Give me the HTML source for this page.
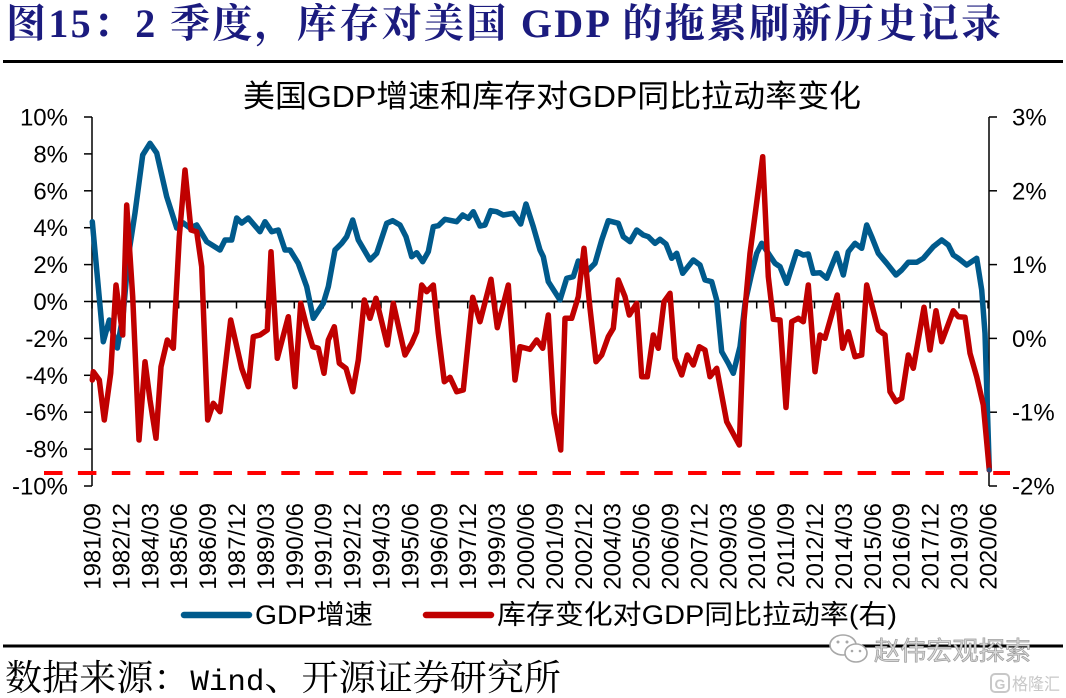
<!DOCTYPE html>
<html>
<head>
<meta charset="utf-8">
<style>
  html,body{margin:0;padding:0;background:#fff;}
  body{width:1066px;height:698px;overflow:hidden;}
  svg{display:block;}
  .sans{font-family:"Liberation Sans","Noto Sans CJK SC",sans-serif;}
  .serif{font-family:"Liberation Serif","Noto Serif CJK SC",serif;}
</style>
</head>
<body>
<svg width="1066" height="698" viewBox="0 0 1066 698" xmlns="http://www.w3.org/2000/svg">
  <!-- Title -->
  <text class="serif" x="6" y="37" font-size="40" font-weight="bold" fill="#1b1b7e" textLength="995" lengthAdjust="spacing">图15：2 季度，库存对美国 GDP 的拖累刷新历史记录</text>
  <line x1="3" y1="61.5" x2="1063" y2="61.5" stroke="#000" stroke-width="3"/>

  <!-- Chart title -->
  <text class="sans" x="243" y="107" font-size="31" fill="#000" textLength="618" lengthAdjust="spacingAndGlyphs">美国GDP增速和库存对GDP同比拉动率变化</text>

  <!-- Left axis -->
  <line x1="92" y1="117" x2="92" y2="486" stroke="#000" stroke-width="1.5"/>
  <g stroke="#000" stroke-width="1.5">
    <line x1="84" y1="117" x2="92" y2="117"/>
    <line x1="84" y1="153.9" x2="92" y2="153.9"/>
    <line x1="84" y1="190.8" x2="92" y2="190.8"/>
    <line x1="84" y1="227.7" x2="92" y2="227.7"/>
    <line x1="84" y1="264.6" x2="92" y2="264.6"/>
    <line x1="84" y1="301.5" x2="92" y2="301.5"/>
    <line x1="84" y1="338.4" x2="92" y2="338.4"/>
    <line x1="84" y1="375.3" x2="92" y2="375.3"/>
    <line x1="84" y1="412.2" x2="92" y2="412.2"/>
    <line x1="84" y1="449.1" x2="92" y2="449.1"/>
    <line x1="84" y1="486" x2="92" y2="486"/>
  </g>
  <g class="sans" font-size="24" fill="#000" text-anchor="end">
    <text x="68" y="125.5">10%</text>
    <text x="68" y="162.4">8%</text>
    <text x="68" y="199.3">6%</text>
    <text x="68" y="236.2">4%</text>
    <text x="68" y="273.1">2%</text>
    <text x="68" y="310">0%</text>
    <text x="68" y="346.9">-2%</text>
    <text x="68" y="383.8">-4%</text>
    <text x="68" y="420.7">-6%</text>
    <text x="68" y="457.6">-8%</text>
    <text x="68" y="494.5">-10%</text>
  </g>

  <!-- Right axis -->
  <line x1="989" y1="117" x2="989" y2="486" stroke="#000" stroke-width="1.5"/>
  <g stroke="#000" stroke-width="1.5">
    <line x1="989" y1="117" x2="997" y2="117"/>
    <line x1="989" y1="190.8" x2="997" y2="190.8"/>
    <line x1="989" y1="264.6" x2="997" y2="264.6"/>
    <line x1="989" y1="338.4" x2="997" y2="338.4"/>
    <line x1="989" y1="412.2" x2="997" y2="412.2"/>
    <line x1="989" y1="486" x2="997" y2="486"/>
  </g>
  <g class="sans" font-size="24" fill="#000">
    <text x="1012" y="125.5">3%</text>
    <text x="1012" y="199.3">2%</text>
    <text x="1012" y="273.1">1%</text>
    <text x="1012" y="346.9">0%</text>
    <text x="1012" y="420.7">-1%</text>
    <text x="1012" y="494.5">-2%</text>
  </g>

  <!-- Zero line (category axis) -->
  <line x1="92" y1="301.5" x2="989" y2="301.5" stroke="#000" stroke-width="2"/>
  <g stroke="#000" stroke-width="1.5">
    <line x1="92" y1="301.5" x2="92" y2="308.5"/>
    <line x1="120.9" y1="301.5" x2="120.9" y2="308.5"/>
    <line x1="149.8" y1="301.5" x2="149.8" y2="308.5"/>
    <line x1="178.7" y1="301.5" x2="178.7" y2="308.5"/>
    <line x1="207.6" y1="301.5" x2="207.6" y2="308.5"/>
    <line x1="236.5" y1="301.5" x2="236.5" y2="308.5"/>
    <line x1="265.4" y1="301.5" x2="265.4" y2="308.5"/>
    <line x1="294.3" y1="301.5" x2="294.3" y2="308.5"/>
    <line x1="323.2" y1="301.5" x2="323.2" y2="308.5"/>
    <line x1="352.1" y1="301.5" x2="352.1" y2="308.5"/>
    <line x1="381" y1="301.5" x2="381" y2="308.5"/>
    <line x1="409.9" y1="301.5" x2="409.9" y2="308.5"/>
    <line x1="438.8" y1="301.5" x2="438.8" y2="308.5"/>
    <line x1="467.7" y1="301.5" x2="467.7" y2="308.5"/>
    <line x1="496.6" y1="301.5" x2="496.6" y2="308.5"/>
    <line x1="525.5" y1="301.5" x2="525.5" y2="308.5"/>
    <line x1="554.4" y1="301.5" x2="554.4" y2="308.5"/>
    <line x1="583.3" y1="301.5" x2="583.3" y2="308.5"/>
    <line x1="612.2" y1="301.5" x2="612.2" y2="308.5"/>
    <line x1="641.1" y1="301.5" x2="641.1" y2="308.5"/>
    <line x1="670" y1="301.5" x2="670" y2="308.5"/>
    <line x1="698.9" y1="301.5" x2="698.9" y2="308.5"/>
    <line x1="727.8" y1="301.5" x2="727.8" y2="308.5"/>
    <line x1="756.7" y1="301.5" x2="756.7" y2="308.5"/>
    <line x1="785.6" y1="301.5" x2="785.6" y2="308.5"/>
    <line x1="814.5" y1="301.5" x2="814.5" y2="308.5"/>
    <line x1="843.4" y1="301.5" x2="843.4" y2="308.5"/>
    <line x1="872.3" y1="301.5" x2="872.3" y2="308.5"/>
    <line x1="901.2" y1="301.5" x2="901.2" y2="308.5"/>
    <line x1="930.1" y1="301.5" x2="930.1" y2="308.5"/>
    <line x1="959" y1="301.5" x2="959" y2="308.5"/>
    <line x1="988" y1="301.5" x2="988" y2="308.5"/>
  </g>

  <!-- Series: GDP growth (blue) -->
  <polyline fill="none" stroke="#005a8c" stroke-width="5.5" stroke-linejoin="round" stroke-linecap="round" points="
92.3,221.7 103.3,341.7 109.3,320 117.3,348 123.3,313 128.3,256.7 135,213 142.7,155 150,143.3 156.7,153 166.7,196.7 176.7,228 183.3,223 190,228 196.7,225 206.7,241.7 220,250 225,240 231.7,240 236.7,218 241.7,223 248.3,218 260,231.7 265,221.7 271.7,231.7 278.3,230 285,250 290,250 298.3,263.3 306.7,286.7 313.3,318.3 323.3,303.3 328.3,286.7 335,250 341.7,243.3 346.7,236.7 352.7,220 358.3,240 370,260 376.7,253.3 386.7,223.3 392.7,220.7 400,225 406,236.7 411.7,256.7 416.7,252.7 422.7,261.7 428.3,251.7 433.3,226.7 438.3,225.7 445,219.3 456.7,221.7 462.7,215 468.3,218.3 473.3,211.7 480,226 485,225 490.7,210.7 496.7,211.7 503.3,215 513.3,213.3 520.7,224 526,204 533.3,226.7 540,250 543.3,256.7 548.3,281.7 560,300 566.7,278.3 573.3,276.7 578.3,261 588.3,270 595,263.3 601.7,240 608.3,220.7 618.3,223.3 623.3,236.7 630,241.7 636.7,230 643.3,235 648.3,236.7 655,243.3 660,239.3 666,244 671.7,258.3 676.7,253.3 682.7,273.3 693.3,260 700,265 705,280 711.7,281.7 716.7,300 721.7,351.7 728.3,363.3 733.3,373.3 740,346.7 745,303.3 751.7,273.3 756.7,253.3 761.7,243.3 768.3,253.3 775,263.3 780,266.7 786.7,283.3 796.7,251.7 803.3,255 808.3,254 813.3,273.3 820,272.7 826.7,278.3 836.7,253.3 843.3,275 848.3,251.7 855,243.3 861.7,248.3 866.7,225 871.7,236.7 878.3,253.3 886.7,263.3 896,275 901.7,270 908.3,262.3 916.7,262.3 923.3,258.3 933.3,246.7 941.7,240 948.3,245 953.3,255 958.3,258.3 966.7,265 976.7,258.3 981.7,290 985,333.3 989.3,470"/>

  <!-- Series: inventory contribution (red, right axis) -->
  <polyline fill="none" stroke="#c00000" stroke-width="5.5" stroke-linejoin="round" stroke-linecap="round" points="
92.3,380 93.3,371.7 99.3,380 104.3,420 110.7,373.3 116,285 122.7,335 126.7,205 132.7,296.7 139,440 145,361.7 150,400 156,438.3 161,366.7 167.3,340 173.3,348.3 179.3,236.7 185,170 191,230 196.7,231.7 201.7,266.7 207.7,420 213.3,403.3 220,411.7 230.7,320 241.7,368.3 248.3,386.7 253.3,336.7 260,335 267.3,330 271,251.7 277.3,358.3 288.3,316.7 295,386.7 300.7,303.3 306.7,326.7 312.7,346.7 318.3,348.3 324,373.3 328.3,340 334.3,326.7 339.3,363.3 346,368.3 352.7,391.7 358.3,360 364.3,300 370,318.3 376,298.3 381.7,321.7 387.3,345 393.3,303.3 399.3,330 405,355 411.7,343.3 416.7,331.7 421.7,285 426.7,291.7 433.3,285 438.3,333.3 444.3,381.7 450,377.3 456.7,391.7 463.3,390 472.7,297.3 480,321.7 491,279.3 497.3,327.7 508.3,285 515,380 520,346.7 530,349.3 536.7,340 542.7,348.3 548.3,315 554,413.3 560.7,450 565,318.3 571.7,318.3 578.3,296.7 584,248.3 590,308.3 596,361.7 601.7,355 608.3,336.7 613.3,328.3 618.3,280 625,296.7 629.3,315 636.7,303.3 641.7,376.7 647.3,376.7 653.3,335 658.3,348.3 664,301.7 670,293.3 675,358.3 681.7,375 687.3,355 693.3,365 699.3,346.7 705,350 710,376.7 716.7,368.3 726.7,421.7 739.3,445 744,320 750,253.3 762.7,156.7 768.3,276.7 773.3,319.3 780,320 786,407.5 791.7,321.7 798.3,318.3 803.3,321.7 808.3,285 815,371.7 820,335 825,338.3 837.3,295 842.7,348.3 848.3,331.7 855,356.7 861.7,355 866.7,285 878.3,330 885,335 890,391.7 896,401.7 901.7,398.3 908.3,355 913.3,368.3 924,307.3 930,350 936,310.7 941.7,341.7 953.3,310.7 958.3,316.7 965,317.3 970,353.3 976.7,376.7 983.3,405 989.3,470"/>

  <!-- Dashed red reference line -->
  <line x1="44" y1="473" x2="1010" y2="473" stroke="#ff0000" stroke-width="4" stroke-dasharray="18.5 15.4"/>
  <circle cx="989.3" cy="470" r="2.5" fill="#2a4a7a"/>

  <!-- X axis labels -->
  <g class="sans" font-size="24" fill="#000" text-anchor="end">
    <text transform="translate(100.5,503) rotate(-90)">1981/09</text>
    <text transform="translate(129.4,503) rotate(-90)">1982/12</text>
    <text transform="translate(158.3,503) rotate(-90)">1984/03</text>
    <text transform="translate(187.2,503) rotate(-90)">1985/06</text>
    <text transform="translate(216.1,503) rotate(-90)">1986/09</text>
    <text transform="translate(245,503) rotate(-90)">1987/12</text>
    <text transform="translate(273.9,503) rotate(-90)">1989/03</text>
    <text transform="translate(302.8,503) rotate(-90)">1990/06</text>
    <text transform="translate(331.7,503) rotate(-90)">1991/09</text>
    <text transform="translate(360.6,503) rotate(-90)">1992/12</text>
    <text transform="translate(389.5,503) rotate(-90)">1994/03</text>
    <text transform="translate(418.4,503) rotate(-90)">1995/06</text>
    <text transform="translate(447.3,503) rotate(-90)">1996/09</text>
    <text transform="translate(476.2,503) rotate(-90)">1997/12</text>
    <text transform="translate(505.1,503) rotate(-90)">1999/03</text>
    <text transform="translate(534,503) rotate(-90)">2000/06</text>
    <text transform="translate(562.9,503) rotate(-90)">2001/09</text>
    <text transform="translate(591.8,503) rotate(-90)">2002/12</text>
    <text transform="translate(620.7,503) rotate(-90)">2004/03</text>
    <text transform="translate(649.6,503) rotate(-90)">2005/06</text>
    <text transform="translate(678.5,503) rotate(-90)">2006/09</text>
    <text transform="translate(707.4,503) rotate(-90)">2007/12</text>
    <text transform="translate(736.3,503) rotate(-90)">2009/03</text>
    <text transform="translate(765.2,503) rotate(-90)">2010/06</text>
    <text transform="translate(794.1,503) rotate(-90)">2011/09</text>
    <text transform="translate(823,503) rotate(-90)">2012/12</text>
    <text transform="translate(851.9,503) rotate(-90)">2014/03</text>
    <text transform="translate(880.8,503) rotate(-90)">2015/06</text>
    <text transform="translate(909.7,503) rotate(-90)">2016/09</text>
    <text transform="translate(938.6,503) rotate(-90)">2017/12</text>
    <text transform="translate(967.5,503) rotate(-90)">2019/03</text>
    <text transform="translate(996.5,503) rotate(-90)">2020/06</text>
  </g>

  <!-- Legend -->
  <line x1="184" y1="615" x2="249" y2="615" stroke="#005a8c" stroke-width="6.5" stroke-linecap="round"/>
  <text class="sans" x="255" y="624" font-size="27" fill="#000" textLength="118" lengthAdjust="spacingAndGlyphs">GDP增速</text>
  <line x1="426" y1="615" x2="491" y2="615" stroke="#c00000" stroke-width="6.5" stroke-linecap="round"/>
  <text class="sans" x="497" y="624" font-size="27" fill="#000" textLength="400" lengthAdjust="spacingAndGlyphs">库存变化对GDP同比拉动率(右)</text>

  <!-- Bottom separator -->
  <line x1="3" y1="646" x2="1063" y2="646" stroke="#000" stroke-width="3"/>

  <!-- Watermark -->
  <g fill="#fff" stroke="#a8a8a8" stroke-width="1.6">
    <ellipse cx="843" cy="645" rx="13" ry="10"/>
    <ellipse cx="856" cy="653" rx="11" ry="9"/>
  </g>
  <g fill="#a8a8a8">
    <circle cx="838" cy="642" r="1.5"/><circle cx="847" cy="642" r="1.5"/>
    <circle cx="852" cy="651" r="1.3"/><circle cx="860" cy="651" r="1.3"/>
  </g>
  <text class="sans" x="874" y="660" font-size="26" fill="#d8d8d8" stroke="#9a9a9a" stroke-width="0.7" textLength="157" lengthAdjust="spacingAndGlyphs">赵伟宏观探索</text>

  <!-- Footer -->
  <text class="serif" x="5" y="690" font-size="36" fill="#000" textLength="556" lengthAdjust="spacingAndGlyphs">数据来源：<tspan font-family="Liberation Mono, monospace" font-size="30">Wind</tspan>、开源证券研究所</text>

  <!-- Corner logo -->
  <rect x="991" y="674" width="18" height="18" rx="4" fill="none" stroke="#c8c8c8" stroke-width="2"/>
  <text class="sans" x="1000" y="689" font-size="14" font-weight="bold" fill="#c8c8c8" text-anchor="middle">G</text>
  <text class="sans" x="1012" y="690" font-size="17" fill="#c8c8c8" textLength="48" lengthAdjust="spacingAndGlyphs">格隆汇</text>
</svg>
</body>
</html>
